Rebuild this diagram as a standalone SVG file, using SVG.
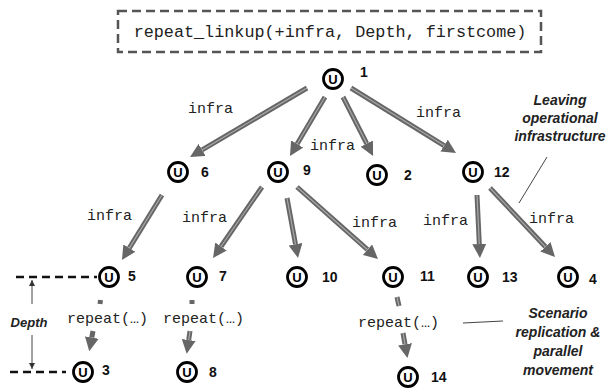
<svg xmlns="http://www.w3.org/2000/svg" width="608" height="388" viewBox="0 0 608 388">
<style>
.node circle{fill:#fff;stroke:#000;stroke-width:2.8}
.u{font-family:"Liberation Sans",Arial,sans-serif;font-size:13px;font-weight:bold;text-anchor:middle;fill:#000}
.num{font-family:"Liberation Sans",Arial,sans-serif;font-size:14px;font-weight:bold;fill:#111}
.code{font-family:"Liberation Mono","Courier New",monospace;font-size:15px;fill:#222}
.note{font-family:"Liberation Sans",Arial,sans-serif;font-size:14px;font-weight:bold;font-style:italic;fill:#222;text-anchor:middle}
.sh{stroke:#666;stroke-width:5;fill:none}
.si{stroke:#a8a8a8;stroke-width:1.2;fill:none}
.thin{stroke:#444;stroke-width:1;fill:none}
</style>
<defs>
<marker id="ah" markerUnits="userSpaceOnUse" markerWidth="15" markerHeight="14" refX="0" refY="7" orient="auto">
<path d="M0,0 L14,7 L0,14 z" fill="#666"/>
</marker>
<marker id="th" markerUnits="userSpaceOnUse" markerWidth="6" markerHeight="6" refX="6" refY="3" orient="auto">
<path d="M0,0 L6,3 L0,6 z" fill="#333"/>
</marker>
</defs>
<rect x="118" y="11" width="423" height="41" fill="none" stroke="#555" stroke-width="2.5" stroke-dasharray="9 5"/>
<text x="330" y="37" class="code" style="font-size:16.8px" text-anchor="middle">repeat_linkup(+infra, Depth, firstcome)</text>
<g id="connectors">
<line class="sh" x1="307" y1="88" x2="202.1" y2="149.9" marker-end="url(#ah)"/>
<line class="si" x1="307" y1="88" x2="202.1" y2="149.9"/>
<line class="sh" x1="325" y1="97" x2="297.1" y2="144" marker-end="url(#ah)"/>
<line class="si" x1="325" y1="97" x2="297.1" y2="144"/>
<line class="sh" x1="343" y1="97" x2="366.7" y2="143.5" marker-end="url(#ah)"/>
<line class="si" x1="343" y1="97" x2="366.7" y2="143.5"/>
<line class="sh" x1="351" y1="88" x2="444.1" y2="145.6" marker-end="url(#ah)"/>
<line class="si" x1="351" y1="88" x2="444.1" y2="145.6"/>
<line class="sh" x1="162" y1="195" x2="129.3" y2="248.1" marker-end="url(#ah)"/>
<line class="si" x1="162" y1="195" x2="129.3" y2="248.1"/>
<line class="sh" x1="262" y1="187" x2="221" y2="246.5" marker-end="url(#ah)"/>
<line class="si" x1="262" y1="187" x2="221" y2="246.5"/>
<line class="sh" x1="287" y1="198" x2="295.5" y2="244.2" marker-end="url(#ah)"/>
<line class="si" x1="287" y1="198" x2="295.5" y2="244.2"/>
<line class="sh" x1="297" y1="187" x2="367.5" y2="249.7" marker-end="url(#ah)"/>
<line class="si" x1="297" y1="187" x2="367.5" y2="249.7"/>
<line class="sh" x1="477" y1="195" x2="479.3" y2="244" marker-end="url(#ah)"/>
<line class="si" x1="477" y1="195" x2="479.3" y2="244"/>
<line class="sh" x1="490" y1="188" x2="545.4" y2="246.8" marker-end="url(#ah)"/>
<line class="si" x1="490" y1="188" x2="545.4" y2="246.8"/>
<line class="sh" x1="397" y1="297" x2="399" y2="306"/>
<line class="si" x1="397" y1="297" x2="399" y2="306"/>
<line class="sh" x1="403" y1="333" x2="405" y2="344.3" marker-end="url(#ah)"/>
<line class="si" x1="403" y1="333" x2="405" y2="344.3"/>
<line class="sh" x1="100.5" y1="300" x2="100" y2="304"/>
<line class="sh" x1="93" y1="331" x2="91.8" y2="337.5" marker-end="url(#ah)"/>
<line class="sh" x1="192" y1="300" x2="192" y2="304"/>
<line class="sh" x1="190" y1="331" x2="188.7" y2="340" marker-end="url(#ah)"/>
<line class="si" x1="190" y1="331" x2="188.7" y2="340"/>
</g>
<g id="edge-labels">
<text class="code" x="188" y="113">infra</text>
<text class="code" x="310" y="150">infra</text>
<text class="code" x="416" y="117">infra</text>
<text class="code" x="87" y="220">infra</text>
<text class="code" x="182" y="222">infra</text>
<text class="code" x="352" y="227">infra</text>
<text class="code" x="423" y="225">infra</text>
<text class="code" x="529" y="223">infra</text>
<text class="code" x="67" y="323">repeat(…)</text>
<text class="code" x="163" y="323">repeat(…)</text>
<text class="code" x="358" y="327">repeat(…)</text>
</g>
<g id="n1" class="node"><circle cx="333" cy="79" r="9.5"/><text class="u" x="333" y="84">U</text><text class="num" x="360" y="77">1</text></g>
<g id="n6" class="node"><circle cx="178" cy="172" r="9.5"/><text class="u" x="178" y="177">U</text><text class="num" x="201" y="177">6</text></g>
<g id="n9" class="node"><circle cx="278" cy="172" r="9.5"/><text class="u" x="278" y="177">U</text><text class="num" x="303" y="175">9</text></g>
<g id="n2" class="node"><circle cx="377" cy="175" r="9.5"/><text class="u" x="377" y="180">U</text><text class="num" x="404" y="180">2</text></g>
<g id="n12" class="node"><circle cx="473" cy="172" r="9.5"/><text class="u" x="473" y="177">U</text><text class="num" x="494" y="177">12</text></g>
<g id="n5" class="node"><circle cx="109" cy="277" r="9.5"/><text class="u" x="109" y="282">U</text><text class="num" x="128" y="281">5</text></g>
<g id="n7" class="node"><circle cx="197" cy="277" r="9.5"/><text class="u" x="197" y="282">U</text><text class="num" x="219" y="281">7</text></g>
<g id="n10" class="node"><circle cx="297" cy="277" r="9.5"/><text class="u" x="297" y="282">U</text><text class="num" x="322" y="282">10</text></g>
<g id="n11" class="node"><circle cx="393" cy="277" r="9.5"/><text class="u" x="393" y="282">U</text><text class="num" x="420" y="281">11</text></g>
<g id="n13" class="node"><circle cx="478" cy="277" r="9.5"/><text class="u" x="478" y="282">U</text><text class="num" x="502" y="282">13</text></g>
<g id="n4" class="node"><circle cx="568" cy="277" r="9.5"/><text class="u" x="568" y="282">U</text><text class="num" x="589" y="284">4</text></g>
<g id="n3" class="node"><circle cx="83" cy="372" r="9.5"/><text class="u" x="83" y="377">U</text><text class="num" x="102" y="375">3</text></g>
<g id="n8" class="node"><circle cx="187" cy="372" r="9.5"/><text class="u" x="187" y="377">U</text><text class="num" x="209" y="377">8</text></g>
<g id="n14" class="node"><circle cx="408" cy="377" r="9.5"/><text class="u" x="408" y="382">U</text><text class="num" x="431" y="382">14</text></g>
<g id="annotations">
<text class="note" x="560" y="105">Leaving</text>
<text class="note" x="560" y="123">operational</text>
<text class="note" x="560" y="141">infrastructure</text>
<line class="thin" x1="547" y1="157" x2="519" y2="203"/>
<text class="note" x="558" y="318">Scenario</text>
<text class="note" x="558" y="337">replication &amp;</text>
<text class="note" x="558" y="356">parallel</text>
<text class="note" x="558" y="375">movement</text>
<line class="thin" x1="463" y1="323" x2="503" y2="321"/>
<line x1="16" y1="277" x2="97" y2="277" stroke="#111" stroke-width="2.5" stroke-dasharray="8 5"/>
<line x1="10" y1="372" x2="66" y2="372" stroke="#111" stroke-width="2.5" stroke-dasharray="8 5"/>
<line class="thin" x1="32" y1="304" x2="32" y2="280" marker-end="url(#th)"/>
<line class="thin" x1="32" y1="335" x2="32" y2="369" marker-end="url(#th)"/>
<text class="note" x="29" y="327" style="font-size:13px">Depth</text>
</g>
</svg>
